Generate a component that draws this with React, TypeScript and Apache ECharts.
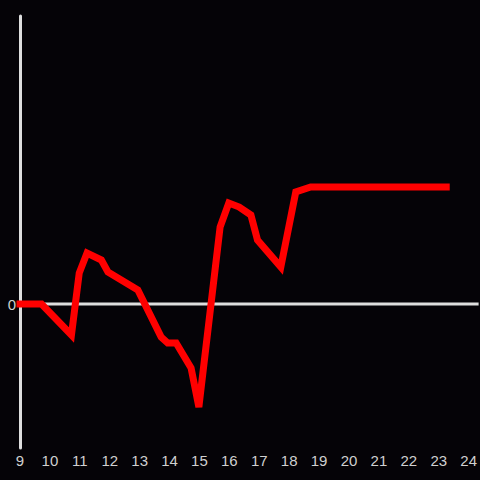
import React, { useEffect, useRef } from "react";
import * as echarts from "echarts";

const hours = [9, 9.72, 10.72, 10.98, 11.24, 11.72, 11.94, 12.94, 13.72, 13.94, 14.22, 14.72, 14.98, 15.69, 15.98, 16.33, 16.72, 16.94, 17.72, 18.22, 18.72, 23.25];
const values = [0, 0, -31, 31, 51, 44, 32, 14, -33, -39, -39, -64, -103, 77, 101, 97, 89, 64, 37, 112, 117, 117];
const xTicks = [9, 10, 11, 12, 13, 14, 15, 16, 17, 18, 19, 20, 21, 22, 23, 24];
const xMin = 9;
const xMax = 24.333;

export default function App() {
  const ref = useRef<HTMLDivElement>(null);
  useEffect(() => {
    const chart = echarts.init(ref.current!, null, { renderer: "svg" });
    chart.setOption({
      animation: false,
      backgroundColor: "#050307",
      grid: { left: 20, right: 0, top: 16, bottom: 32 },
      xAxis: {
        type: "value",
        min: xMin,
        max: xMax,
        interval: 1,
        axisLine: { show: false },
        axisTick: { show: false },
        splitLine: { show: false },
        axisLabel: {
          color: "#d0d0d0",
          fontSize: 15,
          fontFamily: "Liberation Sans",
          margin: 5,
          showMaxLabel: false,
          formatter: (v: number) => (xTicks.includes(v) ? String(v) : ""),
        },
      },
      yAxis: {
        type: "value",
        min: -144,
        max: 288,
        interval: 144,
        z: 0,
        axisLine: { show: true, onZero: false, lineStyle: { color: "#dedede", width: 3 } },
        axisTick: { show: false },
        splitLine: { show: false },
        axisLabel: {
          color: "#d0d0d0",
          fontSize: 15,
          fontFamily: "Liberation Sans",
          margin: 4,
          formatter: (v: number) => (v === 0 ? "0" : ""),
        },
      },
      series: [
        {
          type: "line",
          data: [[xMin, 0], [xMax, 0]],
          symbol: "none",
          silent: true,
          lineStyle: { color: "#dedede", width: 3 },
          z: 1,
        },
        {
          type: "line",
          data: hours.map((h, i) => [h, values[i]]),
          symbol: "none",
          lineStyle: { color: "#ff0000", width: 7, join: "miter", cap: "square" },
          z: 3,
        },
      ],
    });
    return () => chart.dispose();
  }, []);
  return <div ref={ref} style={{ width: 480, height: 480, position: "absolute", left: 0, top: 0 }} />;
}
